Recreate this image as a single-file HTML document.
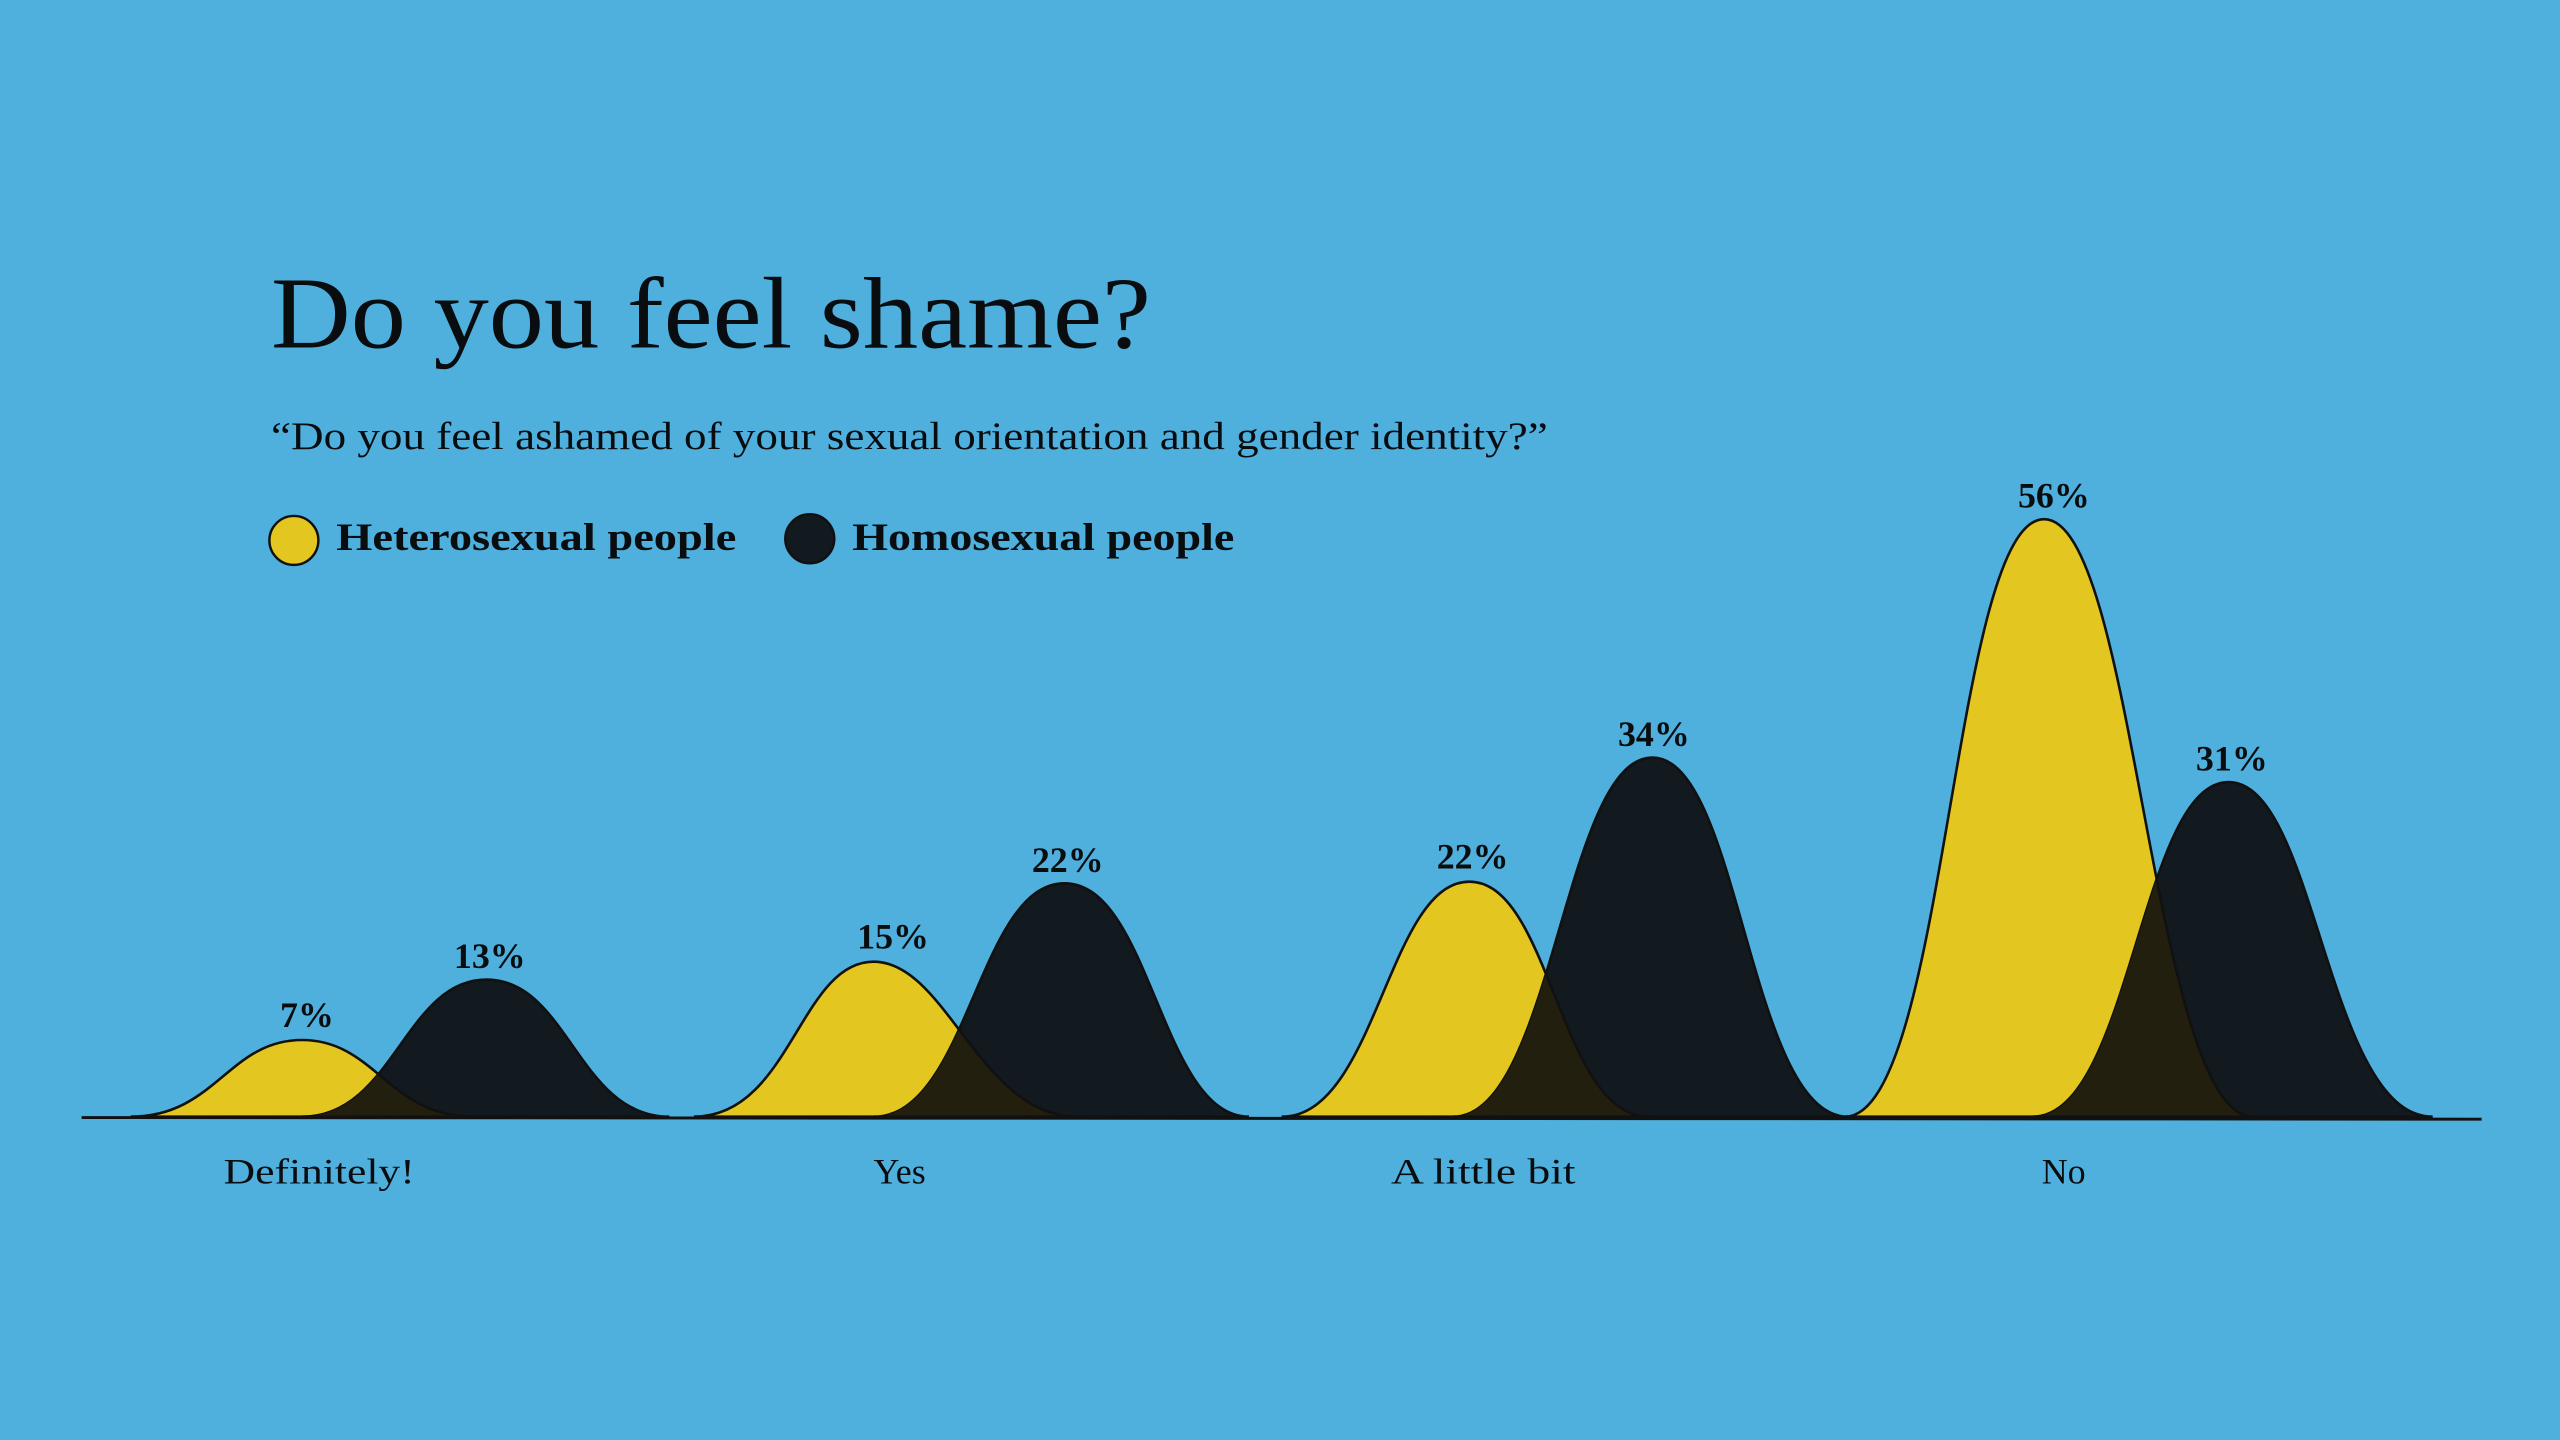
<!DOCTYPE html>
<html><head><meta charset="utf-8"><style>
html,body{margin:0;padding:0;background:#4FB0DD;}
svg{display:block;}
text{font-family:"Liberation Serif",serif;fill:#0a0d10;}
</style></head><body>
<svg width="2560" height="1440" viewBox="0 0 1568 882" xmlns="http://www.w3.org/2000/svg">
<rect width="1568" height="882" fill="#4FB0DD"/>
<text x="166" y="213" font-size="62" textLength="539" lengthAdjust="spacingAndGlyphs">Do you feel shame?</text>
<text x="166" y="275" font-size="24" textLength="782" lengthAdjust="spacingAndGlyphs">“Do you feel ashamed of your sexual orientation and gender identity?”</text>
<circle cx="180" cy="331" r="15" fill="#E3C620" stroke="#111" stroke-width="1.5"/>
<text x="206" y="337" font-size="24" font-weight="bold" textLength="245" lengthAdjust="spacingAndGlyphs">Heterosexual people</text>
<circle cx="496" cy="330" r="15" fill="#12191F" stroke="#111" stroke-width="1.5"/>
<text x="522" y="337" font-size="24" font-weight="bold" textLength="234" lengthAdjust="spacingAndGlyphs">Homosexual people</text>
<defs>
<clipPath id="d1"><path d="M185,684 C241,684 248,600 298,600 S354,684 410,684 Z"/></clipPath>
<clipPath id="d2"><path d="M535,684 C593,684 599,541 652,541 S711,684 765,684 Z"/></clipPath>
<clipPath id="d3"><path d="M890,684 C951,684 958,464 1012,464 S1071,684 1132,684 Z"/></clipPath>
<clipPath id="d4"><path d="M1245,684 C1305,684 1311,479 1365,479 S1425,684 1490,684 Z"/></clipPath>
</defs>
<g stroke="#111" stroke-width="1.6">
<path d="M80,684 C132,684 140,637 185,637 S238,684 290,684 Z" fill="#E3C620"/>
<path d="M185,684 C241,684 248,600 298,600 S354,684 410,684 Z" fill="#12191F"/>
<path d="M80,684 C132,684 140,637 185,637 S238,684 290,684 Z" fill="#231F0F" clip-path="url(#d1)"/>
<path d="M425,684 C484,684 490,589 535,589 S600,684 660,684 Z" fill="#E3C620"/>
<path d="M535,684 C593,684 599,541 652,541 S711,684 765,684 Z" fill="#12191F"/>
<path d="M425,684 C484,684 490,589 535,589 S600,684 660,684 Z" fill="#231F0F" clip-path="url(#d2)"/>
<path d="M785,684 C843,684 850,540 900,540 S955,684 1010,684 Z" fill="#E3C620"/>
<path d="M890,684 C951,684 958,464 1012,464 S1071,684 1132,684 Z" fill="#12191F"/>
<path d="M785,684 C843,684 850,540 900,540 S955,684 1010,684 Z" fill="#231F0F" clip-path="url(#d3)"/>
<path d="M1130,684 C1192,684 1196,318 1252,318 S1318,684 1380,684 Z" fill="#E3C620"/>
<path d="M1245,684 C1305,684 1311,479 1365,479 S1425,684 1490,684 Z" fill="#12191F"/>
<path d="M1130,684 C1192,684 1196,318 1252,318 S1318,684 1380,684 Z" fill="#231F0F" clip-path="url(#d4)"/>
</g>
<line x1="50" y1="684.5" x2="1520" y2="685.5" stroke="#111" stroke-width="1.8"/>
<g font-size="22" font-weight="bold" text-anchor="middle">
<text x="188" y="629">7%</text>
<text x="300" y="593">13%</text>
<text x="547" y="581">15%</text>
<text x="654" y="534">22%</text>
<text x="902" y="532">22%</text>
<text x="1013" y="457">34%</text>
<text x="1258" y="311">56%</text>
<text x="1367" y="472">31%</text>
</g>
<g font-size="22">
<text x="137" y="725" textLength="117" lengthAdjust="spacingAndGlyphs">Definitely!</text>
<text x="551" y="725" text-anchor="middle">Yes</text>
<text x="852" y="725" textLength="113" lengthAdjust="spacingAndGlyphs">A little bit</text>
<text x="1264" y="725" text-anchor="middle">No</text>
</g>
</svg>
</body></html>
